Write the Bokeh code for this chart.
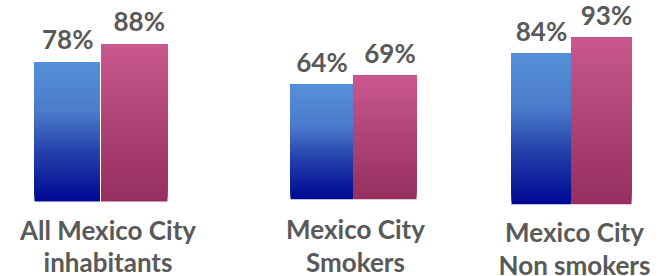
import numpy as np
from bokeh.plotting import figure
from bokeh.layouts import row
from bokeh.models import Range1d
from bokeh.embed import file_html
from bokeh.resources import INLINE
from bokeh.core.properties import value

# ---------------- data ----------------
categories = ["All Mexico City\ninhabitants", "Mexico City\nSmokers", "Mexico City\nNon smokers"]
series = ["Series 1", "Series 2"]
values_s1 = [78, 64, 84]
values_s2 = [88, 69, 93]

# ---------------- style / layout ----------------
PX_PER_UNIT = 1.79          # vertical pixels per percentage point
FIG_H = 276
TOP_SCREEN = 0
# per panel: width, screen left, bars' left edge, px per bar, baseline, label dx, label dy
panels = [
    dict(w=222, left=0,   bars_left=34,  unit=66.5, base=201.0, ldx=7, ldy=12, gap=0.985),
    dict(w=230, left=222, bars_left=290, unit=63.0, base=198.7, ldx=2, ldy=14, gap=1.0),
    dict(w=210, left=452, bars_left=511, unit=60.0, base=203.7, ldx=3, ldy=12, gap=1.0),
]
blue_stops = [(0.0, (0, 8, 148)), (0.35, (36, 64, 170)), (0.65, (76, 124, 204)), (1.0, (85, 144, 216))]
pink_stops = [(0.0, (150, 47, 96)), (0.5, (175, 67, 118)), (1.0, (201, 88, 142))]
series_stops = [blue_stops, pink_stops]
label_dx = [0, 5]
TEXT_COLOR = "#595959"
FONT = "Lato"
N_SLICES = 50


def interp(stops, t):
    for (t0, c0), (t1, c1) in zip(stops[:-1], stops[1:]):
        if t0 <= t <= t1:
            f = (t - t0) / (t1 - t0) if t1 > t0 else 0
            c = [round(a + (b - a) * f) for a, b in zip(c0, c1)]
            return "#%02x%02x%02x" % tuple(c)
    return "#%02x%02x%02x" % stops[-1][1]


figs = []
for gi, cat in enumerate(categories):
    pn = panels[gi]
    vals = [values_s1[gi], values_s2[gi]]
    x_start = -0.5 - (pn["bars_left"] - pn["left"]) / pn["unit"]
    x_end = x_start + pn["w"] / pn["unit"]
    y_end = (pn["base"] - TOP_SCREEN) / PX_PER_UNIT
    y_start = -((TOP_SCREEN + FIG_H) - pn["base"]) / PX_PER_UNIT

    p = figure(width=pn["w"], height=FIG_H, output_backend="svg", toolbar_location=None,
               x_range=Range1d(x_start, x_end), y_range=Range1d(y_start, y_end),
               x_axis_location=None, y_axis_location=None, min_border=0,
               outline_line_color=None, background_fill_color="white", border_fill_color="white")
    p.grid.visible = False

    for si, v in enumerate(vals):
        lo_edge = si - 0.5
        hi_edge = si - 0.5 + pn["gap"] if si == 0 else si + 0.5
        fr = np.arange(N_SLICES) / N_SLICES
        bottoms = fr * v
        colors = [interp(series_stops[si], f + 0.5 / N_SLICES) for f in fr]
        p.quad(left=[lo_edge] * N_SLICES, right=[hi_edge] * N_SLICES,
               bottom=bottoms, top=[v] * N_SLICES, fill_color=colors, line_color=None)
        p.text(x=[si], y=[v], text=[f"{v}%"], text_font=value(FONT), text_font_style="bold",
               text_font_size="26px", text_color=TEXT_COLOR, text_align="center",
               text_baseline="alphabetic", x_offset=label_dx[si], y_offset=-23)

    p.text(x=[np.mean(range(len(vals)))], y=[0], text=[cat], text_font=value(FONT),
           text_font_style="bold", text_font_size="26px", text_color=TEXT_COLOR,
           text_align="center", text_baseline="top", text_line_height=1.02,
           x_offset=pn["ldx"], y_offset=pn["ldy"])
    figs.append(p)

layout = row(*figs, spacing=0)
open("out.html", "w").write(file_html(layout, INLINE))
